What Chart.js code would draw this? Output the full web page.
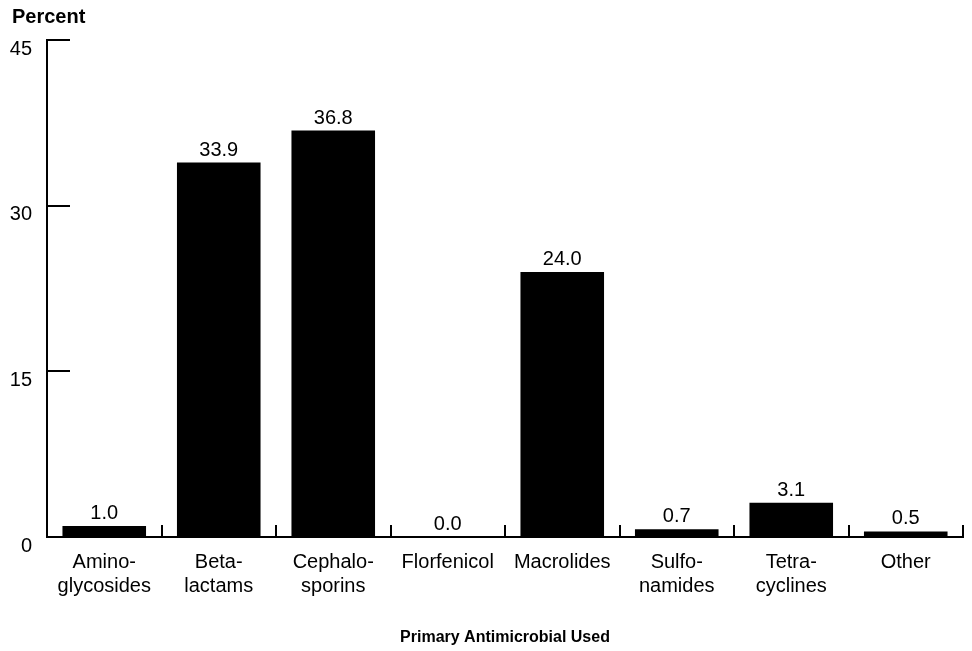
<!DOCTYPE html>
<html>
<head>
<meta charset="utf-8">
<script src="https://cdn.jsdelivr.net/npm/chart.js@4"></script>
<style>
  html, body { margin: 0; padding: 0; background: #fff; }
  #wrap { width: 972px; height: 651px; }
</style>
</head>
<body>
<div id="wrap"><canvas id="chart"></canvas></div>
<script>
'use strict';

const categories = [
    ['Amino-', 'glycosides'],
    ['Beta-', 'lactams'],
    ['Cephalo-', 'sporins'],
    'Florfenicol',
    'Macrolides',
    ['Sulfo-', 'namides'],
    ['Tetra-', 'cyclines'],
    'Other'
];
const percentValues = [1.0, 33.9, 36.8, 0.0, 24.0, 0.7, 3.1, 0.5];
const yTicks = [0, 15, 30, 45];

const fontFamily = '"Liberation Sans", Arial, sans-serif';

// inward tick marks, value labels and the "Percent" heading
const decorPlugin = {
    id: 'decor',
    afterDraw(chart) {
        const ctx = chart.ctx;
        const x = chart.scales.x;
        const y = chart.scales.y;
        const area = chart.chartArea;
        ctx.save();
        ctx.strokeStyle = '#000';
        ctx.lineWidth = 2;

        // y ticks, pointing right
        yTicks.forEach(function (v) {
            if (v === 0) return;
            const py = Math.round(y.getPixelForValue(v));
            ctx.beginPath();
            ctx.moveTo(area.left, py);
            ctx.lineTo(area.left + 23, py);
            ctx.stroke();
        });

        // x ticks at category boundaries, pointing up
        for (let i = 1; i <= categories.length; i++) {
            const px = Math.round((x.getPixelForValue(i - 1) + x.getPixelForValue(i)) / 2);
            const bx = i === categories.length ? area.right : px;
            ctx.beginPath();
            ctx.moveTo(bx, area.bottom);
            ctx.lineTo(bx, area.bottom - 12);
            ctx.stroke();
        }

        // value labels
        ctx.fillStyle = '#000';
        ctx.font = '20px ' + fontFamily;
        ctx.textAlign = 'center';
        ctx.textBaseline = 'alphabetic';
        const meta = chart.getDatasetMeta(0);
        meta.data.forEach(function (bar, i) {
            ctx.fillText(percentValues[i].toFixed(1), bar.x, bar.y - 7);
        });

        // axis heading
        ctx.font = 'bold 20px ' + fontFamily;
        ctx.textAlign = 'left';
        ctx.textBaseline = 'middle';
        ctx.fillText('Percent', 12, 17);
        ctx.restore();
    }
};

new Chart(document.getElementById('chart'), {
    type: 'bar',
    data: {
        labels: categories,
        datasets: [{
            data: percentValues,
            backgroundColor: '#000',
            borderWidth: 0,
            barPercentage: 0.73,
            categoryPercentage: 1.0
        }]
    },
    options: {
        responsive: true,
        maintainAspectRatio: false,
        animation: false,
        layout: {
            padding: { top: 40, right: 9, bottom: 4, left: 0 }
        },
        scales: {
            y: {
                min: 0,
                max: 45,
                afterFit(scale) { scale.width = 47; },
                afterBuildTicks(scale) {
                    scale.ticks = yTicks.map(function (v) { return { value: v }; });
                },
                grid: { display: false, drawTicks: false },
                border: { display: true, color: '#000', width: 2 },
                ticks: {
                    color: '#000',
                    padding: 15,
                    labelOffset: 9,
                    font: { family: fontFamily, size: 20 }
                }
            },
            x: {
                afterFit(scale) { scale.height = 110; },
                grid: { display: false, drawTicks: false },
                border: { display: true, color: '#000', width: 2 },
                ticks: {
                    color: '#000',
                    padding: 13,
                    maxRotation: 0,
                    autoSkip: false,
                    font: { family: fontFamily, size: 20, lineHeight: 1.2 }
                },
                title: {
                    display: true,
                    text: 'Primary Antimicrobial Used',
                    color: '#000',
                    padding: { top: 28, bottom: 0 },
                    font: { family: fontFamily, size: 16, weight: 'bold' }
                }
            }
        },
        plugins: {
            legend: { display: false },
            tooltip: { enabled: false }
        }
    },
    plugins: [decorPlugin]
});
</script>
</body>
</html>
